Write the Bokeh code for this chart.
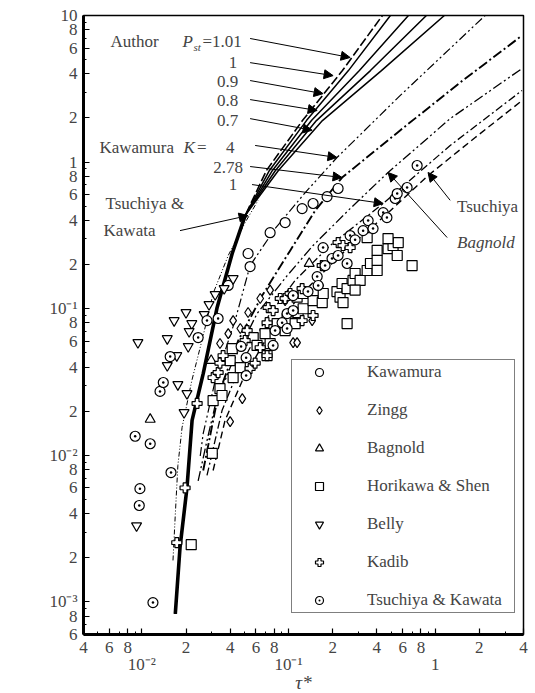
import math
from bokeh.plotting import figure
from bokeh.models import FixedTicker, LogAxis, Label, Arrow, NormalHead
from bokeh.embed import file_html
from bokeh.resources import INLINE

FONT = "Liberation Serif"

# ---------------- Author curves (P_st) ----------------
stem_tau = [0.0169, 0.0182, 0.0203, 0.022, 0.0262, 0.0326, 0.0413, 0.0506]
stem_q = [0.00083, 0.00235, 0.006, 0.0173, 0.0361, 0.102, 0.238, 0.432]
branch_q = [0.877, 1.92, 4.21, 10.0]
branch_tau_101 = [0.0707, 0.1244, 0.2331, 0.4367]
branch_tau_100 = [0.0741, 0.1325, 0.2561, 0.495]
branch_tau_090 = [0.0777, 0.1433, 0.3043, 0.657]
branch_tau_080 = [0.0814, 0.155, 0.3618, 0.871]
branch_tau_070 = [0.0853, 0.1703, 0.43, 1.155]

# ---------------- Other formula curves ----------------
k4_tau = [0.025, 0.0262, 0.0316, 0.0432, 0.0547, 0.081, 0.13, 0.214, 0.576, 2.19]
k4_q = [0.0099, 0.0141, 0.0323, 0.083, 0.197, 0.352, 0.62, 1.075, 2.84, 10.0]
k278_tau = [0.0262, 0.0331, 0.0454, 0.0661, 0.1025, 0.152, 0.2318, 0.576, 1.479, 3.91]
k278_q = [0.00788, 0.0256, 0.0607, 0.123, 0.249, 0.467, 0.785, 1.644, 3.49, 7.3]
k1_tau = [0.0278, 0.0352, 0.0469, 0.0692, 0.1109, 0.192, 0.442, 1.265, 3.91]
k1_q = [0.0073, 0.0202, 0.041, 0.083, 0.156, 0.27, 0.522, 1.299, 3.08]
bag_tau = [0.0242, 0.0278, 0.0316, 0.04, 0.061, 0.0978, 0.147, 0.263, 0.477, 1.265, 3.91]
bag_q = [0.0067, 0.0126, 0.0219, 0.0397, 0.0927, 0.168, 0.27, 0.482, 0.85, 1.98, 4.35]
tsu_tau = [0.0306, 0.0369, 0.0484, 0.0726, 0.12, 0.2245, 0.4554, 0.894, 1.874, 3.91]
tsu_q = [0.00788, 0.0173, 0.0323, 0.0657, 0.123, 0.231, 0.432, 0.81, 1.472, 2.63]
tk_tau = [0.0163, 0.0169, 0.0176, 0.0188, 0.0219, 0.0262, 0.0306, 0.0388, 0.0506, 0.062]
tk_q = [0.00192, 0.00394, 0.00852, 0.0155, 0.0323, 0.0657, 0.127, 0.2307, 0.387, 0.549]

# ---------------- Measured data ----------------
kaw_tau = [0.053, 0.0547, 0.0388, 0.0749, 0.0948, 0.1238, 0.147, 0.1832, 0.2177]
kaw_q = [0.238, 0.194, 0.1441, 0.33, 0.387, 0.482, 0.522, 0.582, 0.661]

zingg_tau = [0.04, 0.0484, 0.0341, 0.0388, 0.0419, 0.0641, 0.053, 0.0749, 0.1075, 0.1144, 0.1449, 0.0948, 0.1645, 0.0469]
zingg_q = [0.017, 0.0244, 0.0579, 0.0677, 0.083, 0.1174, 0.0942, 0.134, 0.0588, 0.0588, 0.083, 0.1136, 0.1441, 0.0733]

bagnold_tau = [0.0114, 0.0297, 0.1384]
bagnold_q = [0.0176, 0.0443, 0.2035]

hs_tau = [0.0217, 0.0302, 0.0306, 0.0341, 0.0352, 0.04, 0.0419, 0.0469, 0.0413, 0.0574,
          0.061, 0.0692, 0.0749, 0.0714, 0.0836, 0.0948, 0.0978, 0.1109, 0.1162, 0.1258,
          0.1144, 0.1258, 0.147, 0.1697, 0.1724, 0.214, 0.2245, 0.2353, 0.2318, 0.2508,
          0.2753, 0.2844, 0.3077, 0.2844, 0.3436, 0.3618, 0.4019, 0.4019, 0.4019, 0.477,
          0.516, 0.5508, 0.5596, 0.3436, 0.477, 0.6956, 0.2508]
hs_q = [0.00246, 0.0103, 0.0236, 0.0285, 0.0256, 0.0443, 0.0339, 0.0397, 0.0535, 0.0636,
        0.0562, 0.0677, 0.0579, 0.0479, 0.0792, 0.071, 0.0858, 0.0792, 0.0942, 0.1,
        0.12, 0.127, 0.1136, 0.1102, 0.127, 0.131, 0.12, 0.1102, 0.1486, 0.1373,
        0.156, 0.1739, 0.156, 0.134, 0.1823, 0.2035, 0.2134, 0.1823, 0.25, 0.2572,
        0.27, 0.2307, 0.2826, 0.3057, 0.301, 0.197, 0.0792]

belly_tau = [0.0094, 0.0092, 0.0166, 0.0149, 0.02, 0.0219, 0.0266, 0.0287, 0.0149, 0.0173,
             0.0176, 0.0203, 0.0194, 0.021, 0.0207, 0.0316, 0.0364, 0.0419]
belly_q = [0.0588, 0.00331, 0.083, 0.0626, 0.0942, 0.0792, 0.0914, 0.1068, 0.041, 0.0479,
           0.0304, 0.0264, 0.0196, 0.07, 0.0553, 0.125, 0.1373, 0.1605]

kadib_tau = [0.0173, 0.0197, 0.0238, 0.0306, 0.0331, 0.0341, 0.0358, 0.0506, 0.0522, 0.0547,
             0.0592, 0.0641, 0.0714, 0.0714, 0.0726, 0.0785, 0.0878, 0.0948, 0.1025, 0.1238,
             0.1238, 0.147, 0.1697, 0.2177, 0.2353, 0.263]
kadib_q = [0.00254, 0.006, 0.0226, 0.0339, 0.0367, 0.0425, 0.0479, 0.0607, 0.071, 0.0391,
           0.0425, 0.0543, 0.0803, 0.0479, 0.1019, 0.0972, 0.1174, 0.1174, 0.127, 0.1373,
           0.083, 0.0899, 0.197, 0.2826, 0.27, 0.2612]

tkd_tau = [0.0119, 0.0096, 0.0097, 0.0158, 0.009, 0.0114, 0.0133, 0.014, 0.0156, 0.0242,
           0.0278, 0.0331, 0.0475, 0.0514, 0.0514, 0.0785, 0.081, 0.0904, 0.0978, 0.0978,
           0.1075, 0.1075, 0.1357, 0.1568, 0.1593, 0.1775, 0.172, 0.198, 0.2177, 0.2508,
           0.263, 0.2844, 0.3225, 0.349, 0.377, 0.442, 0.4686, 0.5335, 0.5508, 0.6432, 0.753]
tkd_q = [0.00099, 0.00455, 0.00593, 0.00763, 0.0135, 0.012, 0.0273, 0.0314, 0.0472, 0.0636,
         0.083, 0.0858, 0.0553, 0.0464, 0.035, 0.0562, 0.071, 0.0803, 0.0733, 0.0927,
         0.123, 0.0972, 0.131, 0.1656, 0.1441, 0.197, 0.2612, 0.2201, 0.2307, 0.2035,
         0.3155, 0.2949, 0.3409, 0.399, 0.352, 0.4525, 0.4187, 0.5647, 0.6105, 0.6711, 0.948]

# ---------------- Ticks ----------------
x_ticks = [0.004, 0.006, 0.008, 0.01, 0.02, 0.04, 0.06, 0.08, 0.1, 0.2, 0.4, 0.6, 0.8, 1, 2, 4]
x_tick_labels = ["4", "6", "8", " ", "2", "4", "6", "8", " ", "2", "4", "6", "8", " ", "2", "4"]
x_decades = [0.01, 0.1, 1]
x_decade_labels = ["10\u207b\u00b2", "10\u207b\u00b9", "1"]
y_ticks = [0.0006, 0.0008, 0.001, 0.002, 0.004, 0.006, 0.008, 0.01, 0.02, 0.04, 0.06, 0.08,
           0.1, 0.2, 0.4, 0.6, 0.8, 1, 2, 4, 6, 8, 10]
y_tick_labels = ["6", "8", "10\u207b\u00b3", "2", "4", "6", "8", "10\u207b\u00b2", "2", "4", "6", "8",
                 "10\u207b\u00b9", "2", "4", "6", "8", "1", "2", "4", "6", "8", "10"]
x_minor = [k * 10.0 ** e for e in range(-3, 1) for k in range(1, 10)]
y_minor = [k * 10.0 ** e for e in range(-4, 2) for k in range(1, 10)]

p = figure(x_axis_type="log", y_axis_type="log", x_range=(0.004, 4), y_range=(0.0006, 10),
           frame_width=440, frame_height=619, output_backend="svg", toolbar_location=None,
           min_border_left=83, min_border_right=10, min_border_top=15, min_border_bottom=59)
p.grid.visible = False
p.outline_line_color = "black"
p.outline_line_width = 1.5
p.background_fill_color = "white"

# axes
yax = p.yaxis[0]
yax.ticker = FixedTicker(ticks=y_ticks, minor_ticks=y_minor)
yax.major_label_overrides = {t: l for t, l in zip(y_ticks, y_tick_labels)}
xax = p.xaxis[0]
xax.ticker = FixedTicker(ticks=x_ticks, minor_ticks=x_minor)
xax.major_label_overrides = {t: l for t, l in zip(x_ticks, x_tick_labels)}
for ax in (xax, yax):
    ax.axis_line_width = 3
    ax.major_tick_in = 6
    ax.major_tick_out = 0
    ax.minor_tick_in = 3
    ax.minor_tick_out = 0
    ax.major_tick_line_width = 1.2
    ax.major_label_text_font = FONT
    ax.major_label_text_font_size = "17px"
    ax.major_label_standoff = 3
yax.major_label_standoff = 6

xax2 = LogAxis(ticker=FixedTicker(ticks=x_decades, minor_ticks=[]),
               major_label_overrides={t: l for t, l in zip(x_decades, x_decade_labels)},
               axis_line_color=None, major_tick_line_color=None, minor_tick_line_color=None,
               major_label_text_font=FONT, major_label_text_font_size="17px",
               major_label_standoff=-11, axis_label="\u03c4*", axis_label_text_font=FONT,
               axis_label_text_font_style="italic", axis_label_text_font_size="19px",
               axis_label_standoff=-5)
p.add_layout(xax2, "below")

# ---------------- curves ----------------
branches = [branch_tau_101, branch_tau_100, branch_tau_090, branch_tau_080, branch_tau_070]
for i, bt in enumerate(branches):
    tx = stem_tau + bt
    ty = stem_q + branch_q
    if i == 0:
        p.line(tx, ty, line_color="black", line_width=1.6, line_dash="9 3")
    else:
        p.line(tx, ty, line_color="black", line_width=1.5)
p.line(stem_tau, stem_q, line_color="black", line_width=3.6)

p.line(k4_tau, k4_q, line_color="black", line_width=1.2, line_dash="9 3 2 3 2 3")
p.line(k278_tau, k278_q, line_color="black", line_width=1.9, line_dash="10 3 2 3")
p.line(k1_tau, k1_q, line_color="black", line_width=1.3, line_dash="8 3 2 3")
p.line(bag_tau, bag_q, line_color="black", line_width=1.3, line_dash="10 3 2 3 2 3")
p.line(tsu_tau, tsu_q, line_color="black", line_width=1.4, line_dash="7 4")
p.line(tk_tau, tk_q, line_color="black", line_width=1.0, line_dash="5 2 1 2 1 2")

# ---------------- markers ----------------
mk = dict(size=10, line_color="black", fill_color="white", line_width=1.2)
p.scatter(kaw_tau, kaw_q, marker="circle", legend_label="Kawamura", **mk)
p.scatter(zingg_tau, zingg_q, marker="diamond", legend_label="Zingg", **mk)
p.scatter(bagnold_tau, bagnold_q, marker="triangle", legend_label="Bagnold", **mk)
p.scatter(hs_tau, hs_q, marker="square", legend_label="Horikawa & Shen", **mk)
p.scatter(belly_tau, belly_q, marker="inverted_triangle", legend_label="Belly", **mk)
p.scatter(kadib_tau, kadib_q, marker="plus", legend_label="Kadib", **mk)
p.scatter(tkd_tau, tkd_q, marker="circle_dot", legend_label="Tsuchiya & Kawata", **mk)

leg = p.legend[0]
leg.location = (208, 21)
leg.margin = 0
leg.border_line_color = "black"
leg.border_line_width = 1.5
leg.background_fill_alpha = 1
leg.padding = 2
leg.spacing = 18
leg.label_height = 20
leg.glyph_height = 20
leg.glyph_width = 50
leg.label_standoff = 23
leg.label_width = 145
leg.label_text_font = FONT
leg.label_text_font_size = "17px"


# ---------------- annotations ----------------
def lab(x, y, text, align="left", style="normal", size="17px"):
    p.add_layout(Label(x=x, y=y, text=text, text_font=FONT, text_font_size=size,
                       text_font_style=style, text_align=align, text_baseline="middle"))


lab(0.00611, 6.65, "Author")
lab(0.01892, 6.65, "P", style="italic")
lab(0.02248, 6.1, "st", style="italic", size="11px")
lab(0.0259, 6.65, "=1.01")
lab(0.0419, 4.77, "1", align="center")
lab(0.0454, 3.54, "0.9", align="right")
lab(0.0454, 2.63, "0.8", align="right")
lab(0.0454, 1.92, "0.7", align="right")
lab(0.00514, 1.258, "Kawamura")
lab(0.0192, 1.258, "K", style="italic")
lab(0.0238, 1.258, "=")
lab(0.0375, 1.258, "4")
lab(0.049, 0.918, "2.78", align="right")
lab(0.0419, 0.703, "1", align="center")
lab(0.00565, 0.522, "Tsuchiya &")
lab(0.00548, 0.341, "Kawata")
lab(1.409, 0.498, "Tsuchiya")
lab(1.409, 0.283, "Bagnold", style="italic")

# y axis title q*_s (rotated)
p.add_layout(Label(x=0.00174, y=0.257, text="q", text_font=FONT, text_font_size="24px",
                   text_font_style="italic", angle=math.pi / 2, text_align="center",
                   text_baseline="middle"))
p.add_layout(Label(x=0.00146, y=0.33, text="*", text_font=FONT, text_font_size="16px",
                   angle=math.pi / 2, text_align="center", text_baseline="middle"))
p.add_layout(Label(x=0.00197, y=0.33, text="s", text_font=FONT, text_font_size="14px",
                   text_font_style="italic", angle=math.pi / 2, text_align="center",
                   text_baseline="middle"))

arrows = [
    (0.0547, 6.97, 0.263, 5.17),
    (0.0547, 4.77, 0.2013, 3.89),
    (0.0547, 3.60, 0.172, 2.93),
    (0.0547, 2.67, 0.1568, 2.25),
    (0.0547, 1.98, 0.1449, 1.65),
    (0.0592, 1.299, 0.214, 1.075),
    (0.0547, 0.933, 0.2318, 0.785),
    (0.0564, 0.703, 0.442, 0.522),
    (0.0182, 0.341, 0.053, 0.432),
    (1.265, 0.549, 0.894, 0.85),
    (1.206, 0.306, 0.477, 0.85),
]
for xs, ys, xe, ye in arrows:
    p.add_layout(Arrow(end=NormalHead(size=9, fill_color="black", line_color="black", line_width=1),
                       x_start=xs, y_start=ys, x_end=xe, y_end=ye,
                       line_color="black", line_width=1))

open("out.html", "w").write(file_html(p, INLINE))
